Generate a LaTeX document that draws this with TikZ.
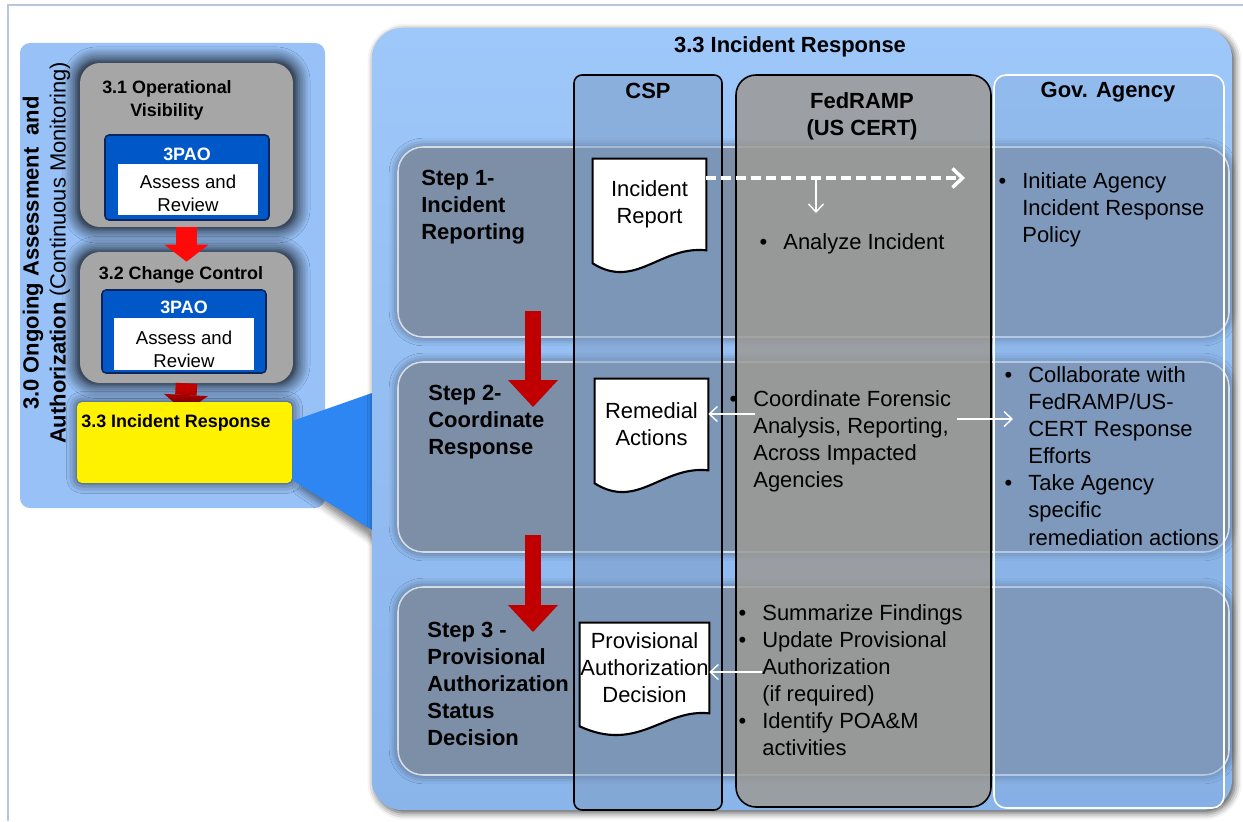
\documentclass[tikz,border=0pt]{standalone}
\usepackage{fontspec}
\setmainfont{Liberation Sans}
\usetikzlibrary{calc,arrows.meta,shadows.blur}

\definecolor{framegray}{RGB}{184,199,220}
\definecolor{leftblue}{RGB}{151,193,247}
\definecolor{boxgray}{RGB}{166,166,166}
\definecolor{paoblue}{RGB}{0,88,200}
\definecolor{paoedge}{RGB}{14,36,92}
\definecolor{brightred}{RGB}{255,10,10}
\definecolor{arrowred}{RGB}{192,0,0}
\definecolor{calloutblue}{RGB}{46,134,242}
\definecolor{paneltop}{RGB}{158,199,250}
\definecolor{panelbot}{RGB}{138,181,235}
\definecolor{panelmid}{RGB}{148,190,242}
\definecolor{rowgray}{RGB}{106,106,106}
\definecolor{cspblue}{RGB}{125,157,198}
\definecolor{fedgray}{RGB}{156,154,150}
\definecolor{govblue}{RGB}{130,170,220}

\def\bul{\llap{\textbullet\hspace{0.32cm}}}
\def\docwave(#1){\fill[white] ($(#1.south west)+(0,-2)$) -- ($(#1.south east)+(0,-2)$) -- (#1.south east) .. controls ($(#1.south east)+(-46,-5)$) and ($(#1.south east)+(-71,40)$) .. ($(#1.south west)+(0,13)$) -- cycle;
	\draw[docline] ($(#1.south west)+(0,13)$) -- (#1.north west) -- (#1.north east) -- (#1.south east) .. controls ($(#1.south east)+(-46,-5)$) and ($(#1.south east)+(-71,40)$) .. ($(#1.south west)+(0,13)$) -- cycle;}

\tikzset{
	body/.style={font=\fontsize{12.5}{15.4}\selectfont, inner sep=0pt, align=left},
	head/.style={font=\bfseries\fontsize{12.5}{15.4}\selectfont, inner sep=0pt, align=center},
	stephead/.style={font=\bfseries\fontsize{12.5}{15.4}\selectfont, inner sep=0pt, align=left, anchor=west},
	lefthead/.style={font=\bfseries\fontsize{10.2}{13}\selectfont, inner sep=0pt, align=center},
	lefttext/.style={font=\fontsize{10.6}{13}\selectfont, inner sep=0pt, align=center},
	grayblock/.style={rectangle, rounded corners=0.4cm, fill=boxgray, inner sep=0pt, blur shadow={shadow xshift=0pt, shadow yshift=0pt, shadow scale=1.04, shadow blur radius=7pt, shadow opacity=95, shadow blur steps=8}},
	paobox/.style={rectangle, rounded corners=0.08cm, fill=paoblue, draw=paoedge, line width=0.9pt, inner sep=0pt},
	revbox/.style={rectangle, fill=white, inner sep=0pt},
	yellowbox/.style={rectangle, rounded corners=0.1cm, fill=yellow, inner sep=0pt, blur shadow={shadow xshift=0pt, shadow yshift=0pt, shadow blur radius=6pt, shadow opacity=75}},
	blockarrow/.style={line width=0.43cm, -{Triangle[width=0.88cm,length=0.34cm,line width=0pt]}},
	stepflow/.style={arrowred, line width=0.32cm, -{Triangle[width=1cm,length=0.54cm,line width=0pt]}},
	steprow/.style={blur shadow={shadow xshift=0pt, shadow yshift=0pt, shadow blur radius=5pt, shadow opacity=55}, preaction={fill=panelmid}, fill=rowgray, fill opacity=0.55, draw=white, draw opacity=0.7, line width=0.9pt, rounded corners=0.5cm},
	lane/.style={draw=black, line width=0.9pt},
	docbox/.style={rectangle, fill=white, inner sep=0pt, align=center, font=\fontsize{12.5}{15.4}\selectfont},
	docline/.style={draw=black, line width=1.2pt},
	flowdash/.style={white, line width=2pt, dash pattern=on 0.2cm off 0.1cm, -{Straight Barb[length=0.2cm,width=0.38cm]}},
	flowthin/.style={white, line width=0.8pt, -{Straight Barb[length=0.16cm,width=0.3cm]}}
}

\begin{document}
\begin{tikzpicture}[x=0.02cm, y=-0.02cm]
		%%%%% START %%%%%
		\useasboundingbox (0,0) rectangle (1243,821);
		
		\draw[line width=1.2pt, framegray] (8,821) -- (8,5) -- (1243,5);
		
		% left part, 3.0
		\fill[leftblue, rounded corners=0.2cm] (20,43) rectangle (325,508);
		\node[head, rotate=90] (title30) at (46.5,253) {3.0 Ongoing Assessment\ \ and\\Authorization {\mdseries(Continuous Monitoring)}};
		
		\node[grayblock, minimum width=4.26cm, minimum height=3.28cm] (box31) at (186.5,145) {};
		\node[lefthead] (lab31) at (167,100.5) {3.1 Operational\\Visibility};
		\node[paobox, minimum width=3.28cm, minimum height=1.7cm] (pao31) at (187,177.5) {};
		\node[lefthead, text=white] (tag31) at (187,154) {3PAO};
		\node[revbox, minimum width=2.8cm, minimum height=1.02cm] (rev31) at (188,189.5) {};
		\node[lefttext] (txt31) at (188,193.5) {Assess and\\Review};
		
		\node[grayblock, minimum width=4.26cm, minimum height=2.62cm] (box32) at (186.5,317.5) {};
		\node[lefthead] (lab32) at (181,275) {3.2 Change Control};
		\node[paobox, minimum width=3.28cm, minimum height=1.66cm] (pao32) at (184,331.5) {};
		\node[lefthead, text=white] (tag32) at (184,307) {3PAO};
		\node[revbox, minimum width=2.8cm, minimum height=1.04cm] (rev32) at (184,344) {};
		\node[lefttext] (txt32) at (184,349) {Assess and\\Review};
		
		\draw[blockarrow, brightred] (box31.south) -- ([yshift=-0.2cm]box32.north);
		\coordinate (tip33) at (185,412);
		\draw[blockarrow, arrowred] (box32.south) -- (tip33);
		
		% callout shadow, box, callout
		\path[blur shadow={shadow xshift=0pt, shadow yshift=-5pt, shadow blur radius=4pt, shadow opacity=50}] (300,421) -- (372,393) -- (372,530) -- (300,480) -- cycle;
		\node[yellowbox, minimum width=4.3cm, minimum height=1.62cm] (ir33) at (184.5,442.5) {};
		\node[lefthead, anchor=west] (lab33) at (81,423) {3.3 Incident Response};
		\fill[calloutblue] (ir33.east |- 0,421) -- (372,393) -- (372,530) -- (ir33.east |- 0,480) -- cycle;
		
		% right part, 3.3
		\path[top color=paneltop, bottom color=panelbot, rounded corners=0.6cm, blur shadow={shadow xshift=1.5pt, shadow yshift=-1.5pt, shadow blur radius=4pt, shadow opacity=70}] (372,28) rectangle (1232,810);
		\node[head] (title33) at (790,47) {3.3 Incident Response};
		
		\path[steprow] (398,147) rectangle (1229,337);
		\path[steprow] (398,362) rectangle (1229,552);
		\path[steprow] (398,587) rectangle (1229,775);
		
		\draw[lane, fill=cspblue, fill opacity=0.54, rounded corners=0.16cm] (574,75) rectangle (722,810);
		\draw[lane, fill=fedgray, fill opacity=0.85, rounded corners=0.4cm] (736,75) rectangle (991,807);
		\draw[lane, draw=white, fill=govblue, fill opacity=0.4, rounded corners=0.24cm] (994,75) rectangle (1224,808);
		
		\node[head] (csp) at (648,91) {CSP};
		\node[head] (fed) at (862,116) {FedRAMP\\(US CERT)};
		\node[head] (gov) at (1108,92) {Gov. Agency};
		
		% step 1
		\node[stephead] (step1) at (421,207) {Step 1-\\Incident\\Reporting};
		\node[docbox, minimum width=2.26cm, minimum height=1.82cm] (doc1) at (649.5,204.5) {Incident\\Report};
		\docwave(doc1)
		\node[body, anchor=west] (fed1) at (783,244) {\bul Analyze Incident};
		\node[body, anchor=west] (gov1) at (1022,210) {\bul Initiate Agency\\Incident Response\\Policy};
		\coordinate (rep) at (965,178);
		\draw[flowdash] (doc1.east |- rep) -- (rep);
		\coordinate (fork) at (816,178);
		\draw[flowthin] (fork) -- ++(0,35);
		
		% step 2
		\coordinate (s1a) at (533,311);
		\coordinate (s1b) at (533,407);
		\draw[stepflow] (s1a) -- (s1b);
		\node[stephead] (step2) at (428,422) {Step 2-\\Coordinate\\Response};
		\node[docbox, minimum width=2.26cm, minimum height=1.82cm] (doc2) at (651.5,424.5) {Remedial\\Actions};
		\docwave(doc2)
		\node[body, anchor=west] (fed2) at (753,441) {\bul Coordinate Forensic\\Analysis, Reporting,\\Across Impacted\\Agencies};
		\node[body, anchor=west] (gov2) at (1028,456) {\bul Collaborate with\\FedRAMP/US-\\CERT Response\\Efforts\\\bul Take Agency\\specific\\remediation actions};
		\coordinate (fed2out) at (755,414);
		\draw[flowthin] (fed2out) -- (doc2.east |- fed2out);
		\coordinate (fed2gov) at (957,419);
		\draw[flowthin] (fed2gov) -- ++(56,0);
		
		% step 3
		\coordinate (s2a) at (533,535);
		\coordinate (s2b) at (533,632);
		\draw[stepflow] (s2a) -- (s2b);
		\node[stephead] (step3) at (427,684) {Step 3 -\\Provisional\\Authorization\\Status\\Decision};
		\node[docbox, minimum width=2.58cm, minimum height=1.8cm] (doc3) at (644.5,668) {Provisional\\Authorization\\Decision};
		\docwave(doc3)
		\node[body, anchor=west] (fed3) at (762,680) {\bul Summarize Findings\\\bul Update Provisional\\Authorization\\(if required)\\\bul Identify POA\&M\\activities};
		\coordinate (fed3out) at (762,672);
		\draw[flowthin] (fed3out) -- (doc3.east |- fed3out);
		
		%%%%% END %%%%%
\end{tikzpicture}
\end{document}
